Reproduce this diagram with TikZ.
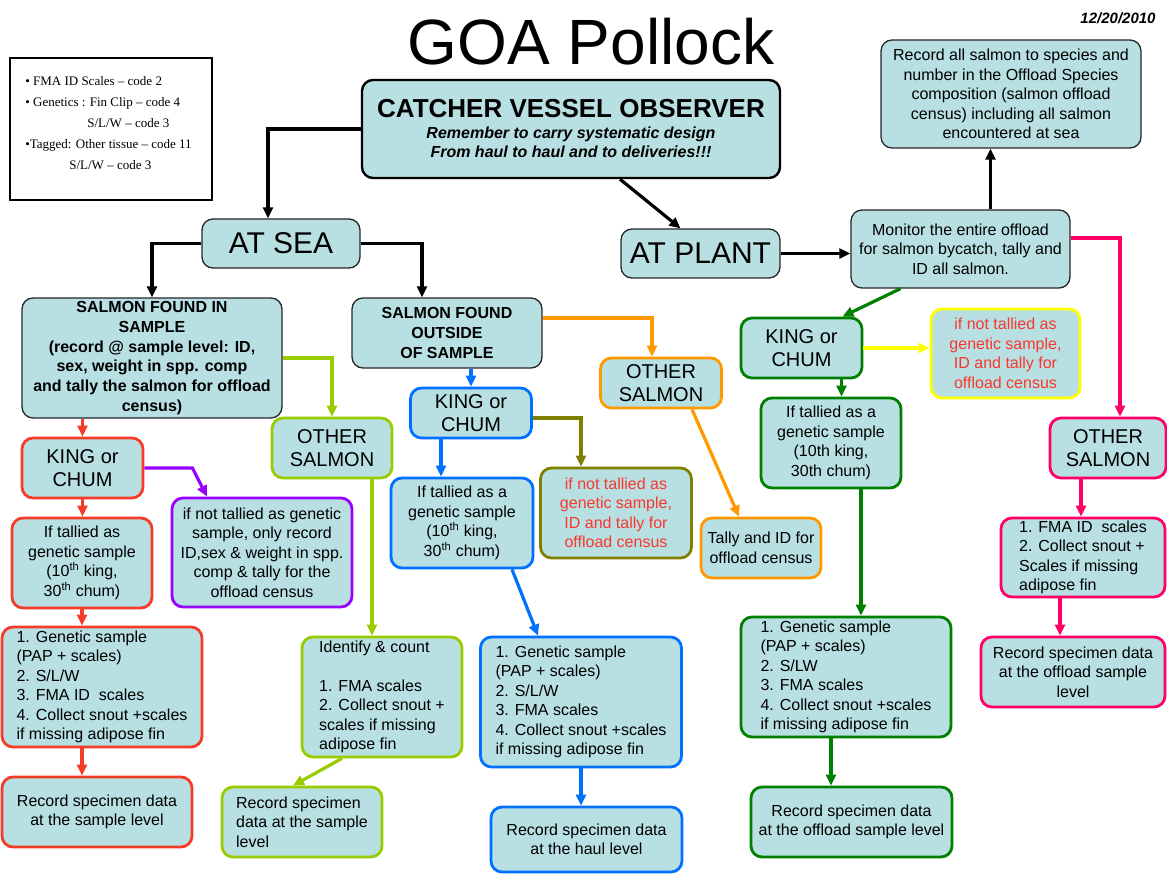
\documentclass[tikz,border=0pt]{standalone}
\usepackage{fontspec}
\setmainfont{Liberation Sans}
\newfontfamily\legendfont{Liberation Serif}
\usepackage{xcolor}
\usepackage{tikz}
\usetikzlibrary{arrows.meta,calc}

\newcommand{\fsz}[2]{\fontsize{#1}{#2}\selectfont}

\definecolor{boxfill}{RGB}{184,223,226}
\definecolor{linered}{RGB}{245,60,40}
\definecolor{lineolive}{RGB}{128,128,0}
\definecolor{linelime}{RGB}{153,204,0}
\definecolor{lineblue}{RGB}{0,112,255}
\definecolor{lineorange}{RGB}{255,153,0}
\definecolor{lineyellow}{RGB}{255,255,0}
\definecolor{linegreen}{RGB}{0,128,0}
\definecolor{linepink}{RGB}{255,0,102}
\definecolor{linepurple}{RGB}{153,0,255}
\definecolor{warntext}{RGB}{250,55,45}

\tikzset{
  base/.style={rectangle, rounded corners=11pt, fill=boxfill, inner sep=1pt,
               align=center, font=\fsz{16}{19.5}},
  blackbox/.style={base, draw=black!85, line width=1.3pt},
  redbox/.style={base, draw=linered, line width=2.8pt},
  olivebox/.style={base, draw=lineolive, line width=2.8pt},
  limebox/.style={base, draw=linelime, line width=2.8pt},
  bluebox/.style={base, draw=lineblue, line width=2.8pt},
  orangebox/.style={base, draw=lineorange, line width=2.8pt},
  yellowbox/.style={base, draw=lineyellow, line width=2.8pt},
  greenbox/.style={base, draw=linegreen, line width=2.8pt},
  pinkbox/.style={base, draw=linepink, line width=2.8pt},
  purplebox/.style={base, draw=linepurple, line width=2.8pt},
  kingchum/.style={font=\fsz{20}{23}},
  boldtext/.style={font=\bfseries\fsz{16}{19.8}},
  legendbox/.style={rectangle, draw=black, line width=2pt, align=left,
                    font=\legendfont\fsz{13}{21}},
  flow/.style={-{Triangle[length=11pt,width=10pt]}, line width=3.2pt},
}

\begin{document}
\begin{tikzpicture}[x=1pt,y=-1pt]
\useasboundingbox (0,0) rectangle (1167,874);

% heading
\node[font=\fsz{64}{70}] (title) at (591,42) {GOA Pollock};
\node[font=\bfseries\itshape\fsz{15}{18}] (date) at (1118,18) {12/20/2010};

\node[legendbox, minimum width=202pt, minimum height=142pt] (legend) at (111,129)
      {\hspace*{-5pt}\textbullet\ FMA ID Scales – code 2\\
       \hspace*{-5pt}\textbullet\ Genetics : Fin Clip – code 4\\
       \hspace*{57pt}S/L/W – code 3\\
       \hspace*{-5pt}\textbullet Tagged: Other tissue – code 11\\
       \hspace*{39pt}S/L/W – code 3\\[-8pt]};

\node[base, draw=black, line width=2.4pt, minimum width=418pt, minimum height=98pt] (vessel) at (571,129)
      {{\bfseries\fsz{26}{30}CATCHER VESSEL OBSERVER}\\[1pt]
       {\bfseries\itshape\fsz{16}{22}Remember to carry systematic design}\\
       {\bfseries\itshape\fsz{16}{22}From haul to haul and to deliveries!!!}};

\node[blackbox, font=\fsz{30}{32}, minimum width=158pt, minimum height=49pt] (sea) at (281,243.5) {AT SEA};
\node[blackbox, font=\fsz{30}{32}, minimum width=159pt, minimum height=49pt] (plant) at (700.5,253.5) {AT PLANT};

\node[blackbox, minimum width=260pt, minimum height=108pt] (recall) at (1011,94)
      {Record all salmon to species and\\ number in the Offload Species\\
       composition (salmon offload\\ census) including all salmon\\ encountered at sea};
\node[blackbox, minimum width=219pt, minimum height=78pt] (monitor) at (960.5,249)
      {Monitor the entire offload\\ for salmon bycatch, tally and\\ ID all salmon.};

% at sea, in sample
\node[blackbox, boldtext, minimum width=260pt, minimum height=120pt] (insample) at (152,358)
      {SALMON FOUND IN\\ SAMPLE\\ (record @ sample level: ID,\\ sex, weight in spp. comp\\
       and tally the salmon for offload\\ census)};
\node[redbox, kingchum, minimum width=121pt, minimum height=60pt] (rking) at (82.5,468) {KING or\\ CHUM};
\node[purplebox, minimum width=180pt, minimum height=109pt] (purple) at (262,552.5)
      {if not tallied as genetic\\ sample, only record\\ ID,sex \& weight in spp.\\ comp \& tally for the\\ offload census};
\node[redbox, minimum width=140pt, minimum height=90pt] (rtally) at (82,563)
      {If tallied as\\ genetic sample\\ (10\textsuperscript{th} king,\\ 30\textsuperscript{th} chum)};
\node[redbox, align=left, minimum width=200pt, minimum height=120pt] (rgen) at (102,687)
      {1. Genetic sample\\ (PAP + scales)\\ 2. S/L/W\\ 3. FMA ID\ \ scales\\ 4. Collect snout +scales\\ if missing adipose fin};
\node[redbox, minimum width=190pt, minimum height=70pt] (rrec) at (97,812)
      {Record specimen data\\ at the sample level};

\node[limebox, kingchum, minimum width=120pt, minimum height=60pt] (lother) at (332,448) {OTHER\\ SALMON};
\node[limebox, align=left, minimum width=160pt, minimum height=120pt] (ident) at (382,697)
      {Identify \& count\\[19.5pt] 1. FMA scales\\ 2. Collect snout +\\ scales if missing\\ adipose fin};
\node[limebox, align=left, minimum width=160pt, minimum height=70pt] (lrec) at (302,822)
      {Record specimen\\ data at the sample\\ level};

% at sea, outside sample
\node[blackbox, boldtext, minimum width=190pt, minimum height=70pt] (outside) at (447,333)
      {SALMON FOUND\\ OUTSIDE\\ OF SAMPLE};
\node[bluebox, kingchum, minimum width=121pt, minimum height=50pt] (bking) at (471,413) {KING or\\ CHUM};
\node[olivebox, text=warntext, minimum width=151pt, minimum height=90pt] (olive) at (616,513)
      {if not tallied as\\ genetic sample,\\ ID and tally for\\ offload census};
\node[bluebox, minimum width=142pt, minimum height=90pt] (btally) at (462,523)
      {If tallied as a\\ genetic sample\\ (10\textsuperscript{th} king,\\ 30\textsuperscript{th} chum)};
\node[bluebox, align=left, minimum width=201pt, minimum height=130pt] (bgen) at (581,702)
      {1. Genetic sample\\ (PAP + scales)\\ 2. S/L/W\\ 3. FMA scales\\ 4. Collect snout +scales\\ if missing adipose fin};
\node[bluebox, minimum width=191pt, minimum height=65pt] (brec) at (586.5,839.5)
      {Record specimen data\\ at the haul level};

\node[orangebox, kingchum, minimum width=121pt, minimum height=50pt] (oother) at (661,383) {OTHER\\ SALMON};
\node[orangebox, minimum width=120pt, minimum height=60pt] (otally) at (761,548)
      {Tally and ID for\\ offload census};

% at plant
\node[greenbox, kingchum, minimum width=121pt, minimum height=60pt] (gking) at (801.5,348) {KING or\\ CHUM};
\node[yellowbox, text=warntext, minimum width=149pt, minimum height=89pt] (yellow) at (1005.5,353.5)
      {if not tallied as\\ genetic sample,\\ ID and tally for\\ offload census};
\node[greenbox, minimum width=140pt, minimum height=90pt] (gtally) at (831,443)
      {If tallied as a\\ genetic sample\\ (10th king,\\ 30th chum)};
\node[greenbox, align=left, minimum width=210pt, minimum height=120pt] (ggen) at (846,677)
      {1. Genetic sample\\ (PAP + scales)\\ 2. S/LW\\ 3. FMA scales\\ 4. Collect snout +scales\\ if missing adipose fin};
\node[greenbox, minimum width=201pt, minimum height=70pt] (grec) at (851.5,822)
      {Record specimen data\\ at the offload sample level};

\node[pinkbox, kingchum, minimum width=116pt, minimum height=60pt] (pother) at (1108,448) {OTHER\\ SALMON};
\node[pinkbox, align=left, minimum width=164pt, minimum height=79pt] (pfma) at (1083,557.5)
      {1. FMA ID\ \ scales\\ 2. Collect snout +\\ Scales if missing\\ adipose fin};
\node[pinkbox, minimum width=184pt, minimum height=70pt] (prec) at (1073,672)
      {Record specimen data\\ at the offload sample\\ level};

% black flows
\draw[flow, black] (vessel.west) -| ([xshift=-13pt]sea.north);
\draw[flow, black] (sea.west) -| (insample.north);
\draw[flow, black] (sea.east) -| ([xshift=-25pt]outside.north);
\draw[flow, black] ([xshift=49pt]vessel.south) -- ([xshift=-20pt]plant.north);
\draw[flow, black] (plant.east) -- (plant.east -| monitor.west);
\draw[flow, black] ([xshift=30pt]monitor.north) -- ([xshift=30pt]monitor.north |- recall.south);

% in sample
\draw[flow, linered] (insample.south -| rking.north) -- (rking.north);
\draw[flow, linepurple] (rking.east) -- ++(48,0) -- ([xshift=-55pt]purple.north);
\draw[flow, linered] (rking.south) -- (rking.south |- rtally.north);
\draw[flow, linered] (rtally.south) -- (rtally.south |- rgen.north);
\draw[flow, linered] (rgen.south -| rtally.south) -- (rrec.north -| rtally.south);
\draw[flow, linelime] (insample.east) -| (lother.north);
\draw[flow, linelime] ([xshift=40pt]lother.south) -- ([xshift=40pt]lother.south |- ident.north);
\draw[flow, linelime] ([xshift=-40pt]ident.south) -- ([xshift=-9pt]lrec.north);

% outside sample
\draw[flow, lineblue] (bking.north |- outside.south) -- (bking.north);
\draw[flow, lineolive] ([yshift=-5pt]bking.east) -| ([xshift=-35pt]olive.north);
\draw[flow, lineblue] ([xshift=-30pt]bking.south) -- ([xshift=-30pt]bking.south |- btally.north);
\draw[flow, lineblue] ([xshift=50pt]btally.south) -- ([xshift=-43pt]bgen.north);
\draw[flow, lineblue] (bgen.south) -- (bgen.south |- brec.north);
\draw[flow, lineorange] ([yshift=15pt]outside.east) -| ([xshift=-9pt]oother.north);
\draw[flow, lineorange] ([xshift=31pt]oother.south) -- ([xshift=-22pt]otally.north);

% at plant
\draw[flow, linegreen] ([xshift=-60pt]monitor.south) -- ([xshift=41pt]gking.north);
\draw[flow, lineyellow] (gking.east) -- (gking.east -| yellow.west);
\draw[flow, linegreen] ([xshift=40pt]gking.south) -- ([xshift=40pt]gking.south |- gtally.north);
\draw[flow, linegreen] ([xshift=30pt]gtally.south) -- ([xshift=30pt]gtally.south |- ggen.north);
\draw[flow, linegreen] ([xshift=-15pt]ggen.south) -- ([xshift=-15pt]ggen.south |- grec.north);
\draw[flow, linepink] ([yshift=11pt]monitor.east) -| ([xshift=12pt]pother.north);
\draw[flow, linepink] ([xshift=-27pt]pother.south) -- ([xshift=-27pt]pother.south |- pfma.north);
\draw[flow, linepink] ([xshift=-23pt]pfma.south) -- ([xshift=-23pt]pfma.south |- prec.north);

\end{tikzpicture}
\end{document}
